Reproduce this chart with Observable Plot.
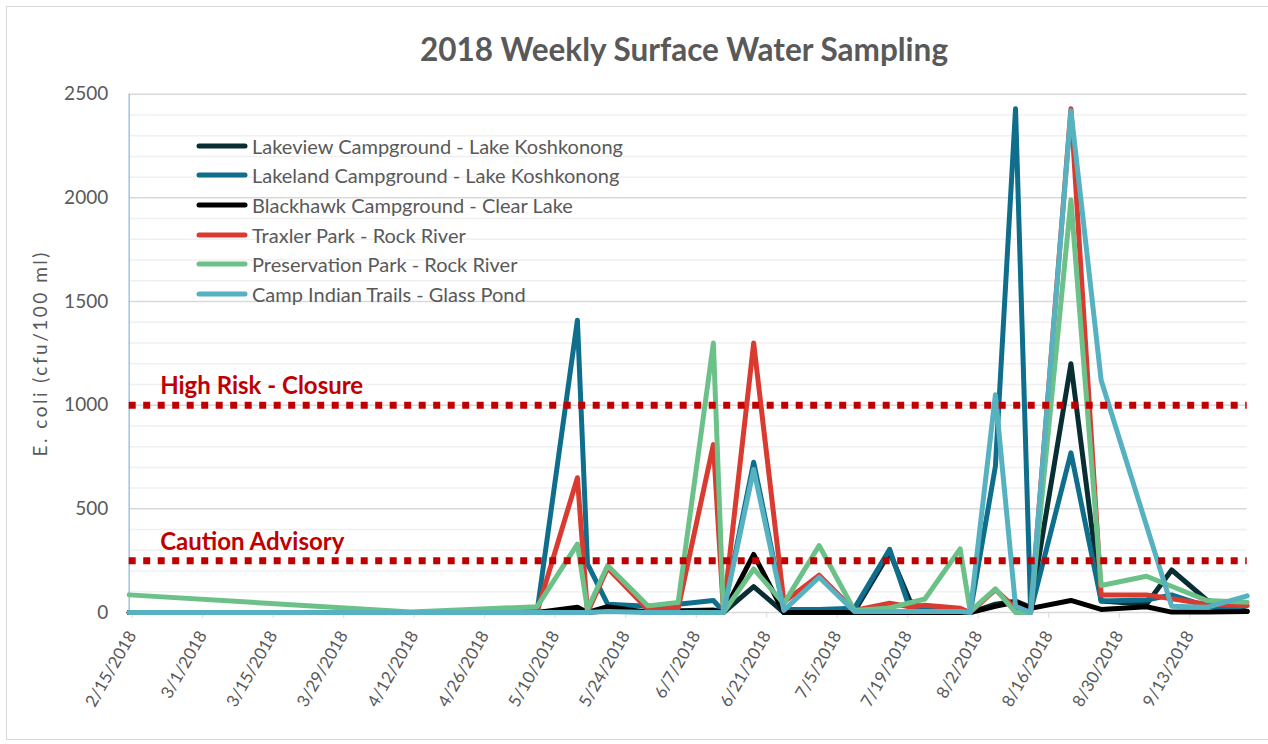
<!DOCTYPE html>
<html>
<head>
<meta charset="utf-8">
<script src="https://cdn.jsdelivr.net/npm/d3@7"></script>
<script src="https://cdn.jsdelivr.net/npm/@observablehq/plot@0.6"></script>
<style>
  html, body { margin: 0; padding: 0; background: #fff; }
  #wrap { position: relative; width: 1268px; height: 744px; overflow: hidden; background: #fff; font-family: Lato, "Open Sans", sans-serif; }
  #border { position: absolute; left: 6px; top: 6px; width: 1270px; height: 734px; border: 1.5px solid #d9d9d9; box-sizing: border-box; pointer-events: none; }
  #title { position: absolute; left: 100px; top: 0; width: 1168px; height: 70px; text-align: center; font-weight: 700; font-size: 31.5px; color: #595959; line-height: 70px; padding-top: 14px; box-sizing: border-box; }
  #chart { position: absolute; left: 0; top: 70px; }
  #legend { position: absolute; left: 196px; top: 131px; }
  .row { display: flex; align-items: center; height: 29.6px; font-size: 20px; color: #595959; white-space: nowrap; }
  .row svg { margin-right: 4px; }
  g[aria-label="y-axis label"] text { letter-spacing: 2.5px; }
</style>
</head>
<body>
<div id="wrap">
  <div id="title">2018 Weekly Surface Water Sampling</div>
  <div id="chart"></div>
  <div id="legend"></div>
  <div id="border"></div>
</div>
<script>
// ---- data ----
const sampleDates = ["2018-02-15","2018-04-12","2018-05-07","2018-05-15","2018-05-17","2018-05-21","2018-05-29","2018-06-04","2018-06-11","2018-06-13","2018-06-19","2018-06-25","2018-07-02","2018-07-09","2018-07-16","2018-07-20","2018-07-23","2018-07-30","2018-08-01","2018-08-06","2018-08-10","2018-08-13","2018-08-21","2018-08-27","2018-09-05","2018-09-10","2018-09-17","2018-09-25"];

const lakeview     = [0, 0, 0, 12, 0, 10, 5, 8, 12, 0, 125, 0, 5, 5, 290, 58, 10, 5, 0, 40, 55, 25, 1200, 55, 40, 205, 60, 5];
const lakeland     = [0, 0, 5, 1410, 235, 40, 30, 40, 58, 5, 725, 15, 15, 20, 305, 20, 10, 5, 0, 705, 2430, 5, 770, 55, 60, 85, 30, 5];
const blackhawk    = [0, 0, 0, 25, 0, 28, 0, 5, 10, 0, 280, 0, 0, 0, 0, null, 0, 0, 0, 30, 50, 20, 58, 15, 28, 2, 2, 5];
const traxler      = [0, 0, 5, 650, 0, 215, 15, 20, 810, 5, 1300, 50, 180, 10, 45, 28, 35, 20, 0, 110, 20, 0, 2430, 85, 85, null, 40, 33];
const preservation = [85, 2, 28, 330, 15, 227, 32, 48, 1300, 0, 210, 43, 323, 10, 22, null, 65, 307, 5, 114, 0, 0, 1990, 130, 175, null, 58, 50];
const campIndian   = [0, 0, 0, 0, 0, 5, 0, 0, 0, 0, 690, 10, 170, 5, 5, null, 5, 5, 0, 1050, 30, 0, 2420, 1120, null, 30, 25, 80];

const seriesNames = [
  "Lakeview Campground - Lake Koshkonong",
  "Lakeland Campground - Lake Koshkonong",
  "Blackhawk Campground - Clear Lake",
  "Traxler Park - Rock River",
  "Preservation Park - Rock River",
  "Camp Indian Trails - Glass Pond"
];
const seriesValues = [lakeview, lakeland, blackhawk, traxler, preservation, campIndian];
const seriesColors = ["#082e33", "#0e6e8c", "#000000", "#d93b31", "#6cc189", "#56b1c0"];

const thresholdValues = [1000, 250];
const thresholdLabels = ["High Risk - Closure", "Caution Advisory"];

const tickDates = ["2018-02-15","2018-03-01","2018-03-15","2018-03-29","2018-04-12","2018-04-26","2018-05-10","2018-05-24","2018-06-07","2018-06-21","2018-07-05","2018-07-19","2018-08-02","2018-08-16","2018-08-30","2018-09-13"];
const yTicks = [0, 500, 1000, 1500, 2000, 2500];
const yMinor = [100, 200, 300, 400, 600, 700, 800, 900, 1100, 1200, 1300, 1400, 1600, 1700, 1800, 1900, 2100, 2200, 2300, 2400];
const xDomain = ["2018-02-15", "2018-09-25"];

// ---- build ----
const toDate = s => new Date(s + "T00:00:00Z");
const fmt = d => `${d.getUTCMonth() + 1}/${d.getUTCDate()}/${d.getUTCFullYear()}`;

const lineMarks = seriesValues.map((vals, i) => {
  const rows = sampleDates.map((d, j) => ({date: toDate(d), value: vals[j]})).filter(r => r.value != null);
  return Plot.line(rows, {x: "date", y: "value", stroke: seriesColors[i], strokeWidth: 5, strokeLinejoin: "round", strokeLinecap: "round"});
});

const thresholds = thresholdValues.map((v, i) => ({value: v, label: thresholdLabels[i]}));

const chart = Plot.plot({
  width: 1268,
  height: 674,
  marginTop: 23.7,
  marginBottom: 132,
  marginLeft: 128.7,
  marginRight: 21.3,
  style: {fontFamily: "Lato, 'Open Sans', sans-serif", fontSize: "19px", color: "#595959", background: "transparent", overflow: "visible"},
  x: {type: "utc", domain: xDomain.map(toDate)},
  y: {domain: [0, 2500]},
  marks: [
    Plot.ruleY(yMinor, {stroke: "#f0f0f0", strokeWidth: 1.5}),
    Plot.ruleY(yTicks, {stroke: "#d9d9d9", strokeWidth: 1.5}),
    Plot.axisY({ticks: yTicks, tickFormat: d => String(d), tickSize: 0, tickPadding: 21, fontSize: 19, fill: "#595959",
      label: "E. coli (cfu/100 ml)", labelAnchor: "center", labelArrow: "none", labelOffset: 96}),
    Plot.axisX({ticks: tickDates.map(toDate), tickFormat: fmt, tickRotate: -60, tickSize: 6, tickPadding: 14,
      dx: 3, stroke: "#d9d9d9", fill: "#595959", fontSize: 17, label: null}),
    Plot.ruleX([toDate(xDomain[0])], {stroke: "#9dc3e6", strokeWidth: 1.5}),
    ...lineMarks,
    Plot.ruleY(thresholds, {y: "value", stroke: "#c00000", strokeWidth: 7, strokeDasharray: "7,7.5"}),
    Plot.text(thresholds, {y: "value", text: "label", frameAnchor: "left", textAnchor: "start", lineAnchor: "bottom",
      dx: 31, dy: -11, fill: "#c00000", fontWeight: 700, fontSize: 24})
  ]
});
document.getElementById("chart").appendChild(chart);

// legend
const legend = document.getElementById("legend");
seriesNames.forEach((name, i) => {
  const row = document.createElement("div");
  row.className = "row";
  row.innerHTML = `<svg width="52" height="10"><line x1="3" y1="5" x2="49" y2="5" stroke="${seriesColors[i]}" stroke-width="5" stroke-linecap="round"/></svg><span>${name}</span>`;
  legend.appendChild(row);
});
</script>
</body>
</html>
